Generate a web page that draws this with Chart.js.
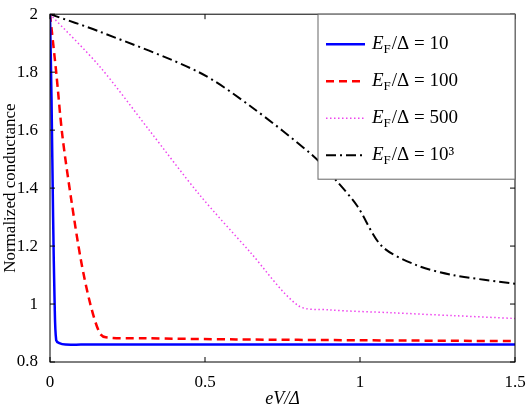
<!DOCTYPE html>
<html><head><meta charset="utf-8">
<script src="https://cdn.jsdelivr.net/npm/chart.js@4/dist/chart.umd.min.js"></script>
<style>body{margin:0;background:#fff}#wrap{width:532px;height:410px}</style>
</head><body><div id="wrap"><canvas id="c"></canvas></div>
<script>
// values
const x10 = [0, 0.005, 0.01, 0.015, 0.02, 0.03, 0.05, 0.1, 0.5, 1, 1.5];
const y10 = [2, 1.7, 1.3, 1.0, 0.875, 0.865, 0.86, 0.86, 0.86, 0.86, 0.86];
const x100 = [0, 0.02, 0.04, 0.07, 0.1, 0.13, 0.16, 0.18, 0.3, 0.6, 1, 1.5];
const y100 = [2, 1.8, 1.58, 1.35, 1.15, 1.0, 0.9, 0.885, 0.882, 0.878, 0.875, 0.872];
const x500 = [0, 0.16, 0.32, 0.48, 0.645, 0.8, 0.9, 1.1, 1.3, 1.5];
const y500 = [2, 1.82, 1.6, 1.38, 1.18, 0.995, 0.98, 0.97, 0.96, 0.95];
const x1000 = [0, 0.16, 0.48, 0.65, 0.85, 0.92, 0.99, 1.07, 1.18, 1.3, 1.5];
const y1000 = [2, 1.94, 1.8, 1.68, 1.51, 1.43, 1.34, 1.2, 1.135, 1.1, 1.07];
const labels = ['10', '100', '500', '10³'];
const xTicks = [0, 0.5, 1, 1.5];
const yTicks = [0.8, 1, 1.2, 1.4, 1.6, 1.8, 2];

const pts = (xs, ys) => xs.map((x, i) => ({x: x, y: ys[i]}));
const serif = '"Liberation Serif", "DejaVu Serif", serif';

const frame = {
  id: 'frame',
  afterDraw(chart) {
    const {ctx, chartArea: a, scales} = chart;
    ctx.save();
    ctx.strokeStyle = '#000';
    ctx.lineWidth = 1;
    ctx.setLineDash([]);
    ctx.strokeRect(a.left, a.top, a.right - a.left, a.bottom - a.top);
    ctx.beginPath();
    xTicks.forEach(v => {
      const p = scales.x.getPixelForValue(v);
      ctx.moveTo(p, a.bottom); ctx.lineTo(p, a.bottom - 5);
      ctx.moveTo(p, a.top); ctx.lineTo(p, a.top + 5);
    });
    yTicks.forEach(v => {
      const p = scales.y.getPixelForValue(v);
      ctx.moveTo(a.left, p); ctx.lineTo(a.left + 5, p);
      ctx.moveTo(a.right, p); ctx.lineTo(a.right - 5, p);
    });
    ctx.stroke();

    // legend box
    const lx = 318, ly = a.top, lw = a.right - lx, lh = 165;
    ctx.fillStyle = '#fff';
    ctx.fillRect(lx, ly, lw, lh);
    ctx.strokeStyle = '#666';
    ctx.strokeRect(lx, ly, lw, lh);
    chart.data.datasets.forEach((ds, i) => {
      const yy = ly + 30 + i * 37;
      ctx.strokeStyle = ds.borderColor;
      ctx.lineWidth = ds.borderWidth;
      ctx.setLineDash(ds.borderDash || []);
      ctx.beginPath(); ctx.moveTo(lx + 8, yy); ctx.lineTo(lx + 47, yy); ctx.stroke();
      ctx.setLineDash([]);
      ctx.fillStyle = '#000';
      ctx.textBaseline = 'middle';
      let tx = lx + 54;
      ctx.font = 'italic 19px ' + serif;
      ctx.fillText('E', tx, yy); tx += ctx.measureText('E').width;
      ctx.font = '13px ' + serif;
      ctx.fillText('F', tx, yy + 5); tx += ctx.measureText('F').width + 1;
      ctx.font = '19px ' + serif;
      ctx.fillText('/Δ = ' + labels[i], tx, yy);
    });
    ctx.restore();
  }
};

new Chart(document.getElementById('c'), {
  type: 'scatter',
  data: {
    datasets: [
      {data: pts(x10, y10), borderColor: '#0000ff', borderWidth: 2.5},
      {data: pts(x100, y100), borderColor: '#ff0000', borderWidth: 2.5, borderDash: [8, 5]},
      {data: pts(x500, y500), borderColor: '#ee44ee', borderWidth: 1.5, borderDash: [1.5, 2.5]},
      {data: pts(x1000, y1000), borderColor: '#000', borderWidth: 2, borderDash: [10, 4, 2, 4]}
    ].map(d => Object.assign(d, {showLine: true, pointRadius: 0, tension: 0.3, fill: false}))
  },
  options: {
    responsive: true, maintainAspectRatio: false, animation: false,
    layout: {padding: {top: 8, right: 17, left: 0, bottom: 0}},
    plugins: {legend: {display: false}, tooltip: {enabled: false}},
    scales: {
      x: {
        type: 'linear', min: 0, max: 1.5,
        grid: {display: false}, border: {display: false},
        afterBuildTicks: s => { s.ticks = xTicks.map(v => ({value: v})); },
        afterFit: s => { s.height = 48; },
        ticks: {color: '#000', font: {family: serif, size: 17}, padding: 2, callback: v => String(v)},
        title: {display: true, text: 'eV/Δ', color: '#000', font: {family: serif, size: 18, style: 'italic'}, padding: {top: 0, bottom: 0}}
      },
      y: {
        min: 0.8, max: 2,
        grid: {display: false}, border: {display: false},
        afterBuildTicks: s => { s.ticks = yTicks.map(v => ({value: v})); },
        afterFit: s => { s.width = 50; },
        ticks: {color: '#000', font: {family: serif, size: 17}, padding: 4, callback: v => String(+v.toFixed(1))},
        title: {display: true, text: 'Normalized conductance', color: '#000', font: {family: serif, size: 17}, padding: {top: 0, bottom: 0}}
      }
    }
  },
  plugins: [frame]
});
</script></body></html>
